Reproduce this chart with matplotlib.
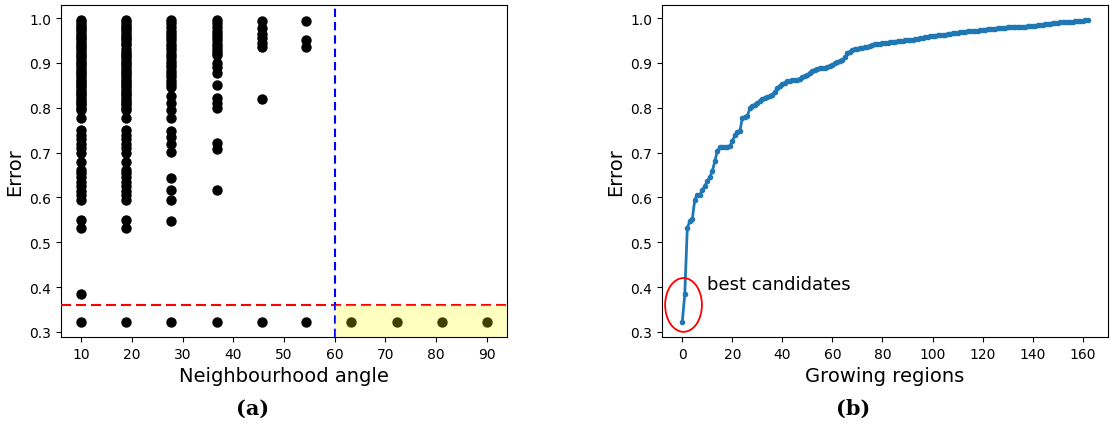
#!/usr/bin/env python3
"""
Error vs neighbourhood angle (a) and sorted error over growing regions (b).
"""
import matplotlib
matplotlib.use('Agg')
import matplotlib.pyplot as plt
from matplotlib.patches import Ellipse

# (a) error of every configuration, grouped by neighbourhood angle
angles = [10.0, 18.9, 27.8, 36.7, 45.6, 54.4, 63.3, 72.2, 81.1, 90.0]
errors_by_angle = [
    [0.995, 0.99, 0.985, 0.98, 0.975, 0.97, 0.965, 0.96, 0.955, 0.95,
     0.945, 0.94, 0.935, 0.93, 0.925, 0.92, 0.915, 0.91, 0.905, 0.90,
     0.895, 0.89, 0.885, 0.88, 0.875, 0.87, 0.865, 0.86, 0.855, 0.85,
     0.845, 0.84, 0.835, 0.83, 0.825, 0.82, 0.815, 0.81, 0.805, 0.80,
     0.795, 0.778, 0.75, 0.74, 0.73, 0.72, 0.71, 0.70, 0.678, 0.662,
     0.655, 0.645, 0.635, 0.625, 0.615, 0.605, 0.595, 0.549, 0.531,
     0.384, 0.322],
    [0.995, 0.99, 0.985, 0.98, 0.975, 0.97, 0.965, 0.96, 0.955, 0.95,
     0.945, 0.94, 0.93, 0.925, 0.92, 0.915, 0.91, 0.905, 0.90,
     0.895, 0.89, 0.885, 0.88, 0.875, 0.87, 0.865, 0.86, 0.855, 0.85,
     0.845, 0.84, 0.835, 0.83, 0.825, 0.82, 0.815, 0.81, 0.805, 0.80,
     0.795, 0.778, 0.75, 0.74, 0.73, 0.72, 0.71, 0.70, 0.678, 0.662,
     0.655, 0.645, 0.635, 0.625, 0.615, 0.605, 0.595, 0.549, 0.531,
     0.322],
    [0.995, 0.988, 0.98, 0.972, 0.965, 0.958, 0.95, 0.942, 0.935, 0.928,
     0.92, 0.912, 0.905, 0.898, 0.89, 0.882, 0.875, 0.868, 0.86, 0.852,
     0.845, 0.825, 0.81, 0.795, 0.776, 0.747, 0.735, 0.72, 0.702, 0.644,
     0.616, 0.593, 0.547, 0.322],
    [0.995, 0.988, 0.98, 0.972, 0.965, 0.958, 0.95, 0.942, 0.935, 0.928,
     0.922, 0.918, 0.90, 0.89, 0.878, 0.851, 0.822, 0.81, 0.80, 0.722,
     0.707, 0.616, 0.322],
    [0.993, 0.978, 0.965, 0.955, 0.945, 0.936, 0.82, 0.322],
    [0.993, 0.951, 0.936, 0.322],
    [0.322],
    [0.322],
    [0.322],
    [0.322],
]
error_threshold = 0.36
angle_threshold = 60
angle_ticks = [10, 20, 30, 40, 50, 60, 70, 80, 90]

# (b) sorted error of the growing regions
region_errors = [
    0.322, 0.384, 0.531, 0.547, 0.551, 0.595, 0.605, 0.606, 0.616, 0.625,
    0.636, 0.645, 0.658, 0.680, 0.703, 0.712, 0.713, 0.713, 0.713, 0.714,
    0.725, 0.738, 0.745, 0.747, 0.777, 0.779, 0.781, 0.799, 0.804, 0.807,
    0.810, 0.814, 0.819, 0.822, 0.824, 0.825, 0.829, 0.836, 0.843, 0.848,
    0.852, 0.856, 0.859, 0.860, 0.861, 0.861, 0.862, 0.865, 0.868, 0.871,
    0.873, 0.877, 0.881, 0.885, 0.887, 0.888, 0.888, 0.889, 0.890, 0.893,
    0.896, 0.899, 0.901, 0.904, 0.907, 0.912, 0.921, 0.925, 0.928, 0.930,
    0.931, 0.933, 0.934, 0.935, 0.936, 0.938, 0.939, 0.941, 0.942, 0.943,
    0.944, 0.944, 0.945, 0.946, 0.946, 0.947, 0.948, 0.948, 0.949, 0.950,
    0.950, 0.951, 0.952, 0.953, 0.954, 0.955, 0.956, 0.957, 0.958, 0.959,
    0.960, 0.960, 0.961, 0.962, 0.962, 0.963, 0.964, 0.965, 0.966, 0.966,
    0.967, 0.968, 0.969, 0.969, 0.970, 0.970, 0.971, 0.972, 0.972, 0.973,
    0.974, 0.974, 0.975, 0.975, 0.976, 0.976, 0.977, 0.977, 0.978, 0.978,
    0.979, 0.979, 0.979, 0.980, 0.980, 0.981, 0.981, 0.981, 0.982, 0.982,
    0.983, 0.983, 0.984, 0.985, 0.985, 0.986, 0.987, 0.987, 0.988, 0.988,
    0.989, 0.990, 0.990, 0.991, 0.991, 0.992, 0.992, 0.993, 0.993, 0.994,
    0.994, 0.995, 0.995,
]
region_ticks = [0, 20, 40, 60, 80, 100, 120, 140, 160]

W, H = 1111, 427
fig = plt.figure(figsize=(W / 100, H / 100), dpi=100)


def px_axes(x0, y0, x1, y1):
    return fig.add_axes([x0 / W, 1 - y1 / H, (x1 - x0) / W, (y1 - y0) / H])


# ---- (a) ----
ax1 = px_axes(61, 6, 507, 338)
for a, errs in zip(angles, errors_by_angle):
    ax1.scatter([a] * len(errs), errs, s=42, color='black', zorder=2)
ax1.set_xlim(6, 94)
ax1.set_ylim(0.2885, 1.029)
ax1.axhline(error_threshold, color='red', linestyle='--', linewidth=1.5,
            dashes=(4.8, 2.4), zorder=3)
ax1.axvline(angle_threshold, color='blue', linestyle='--', linewidth=1.5,
            dashes=(4, 2.4), zorder=3)
ax1.fill_between([angle_threshold, 94], 0.2885, error_threshold,
                 color='yellow', alpha=0.25, linewidth=0, zorder=4)
ax1.set_xticks(angle_ticks)
ax1.set_xlabel('Neighbourhood angle', fontsize=14)
ax1.set_ylabel('Error', fontsize=14)

# ---- (b) ----
ax2 = px_axes(662, 6, 1108, 338)
ax2.plot(range(len(region_errors)), region_errors, color='#1f77b4',
         marker='.', markersize=6, linewidth=2)
ax2.set_ylim(0.2885, 1.029)
ax2.set_xticks(region_ticks)
ax2.add_patch(Ellipse((0.5, 0.36), 14.7, 0.12, fill=False,
                      edgecolor='red', linewidth=1.3, zorder=5))
ax2.text(9.8, 0.407, 'best candidates', fontsize=13, va='center')
ax2.set_xlabel('Growing regions', fontsize=14)
ax2.set_ylabel('Error', fontsize=14)

fig.text(253 / W, 1 - 409 / H, '(a)', ha='center', va='center',
         fontsize=15, fontweight='bold', family='DejaVu Serif')
fig.text(853 / W, 1 - 409 / H, '(b)', ha='center', va='center',
         fontsize=15, fontweight='bold', family='DejaVu Serif')

fig.savefig('out.png', dpi=100)
